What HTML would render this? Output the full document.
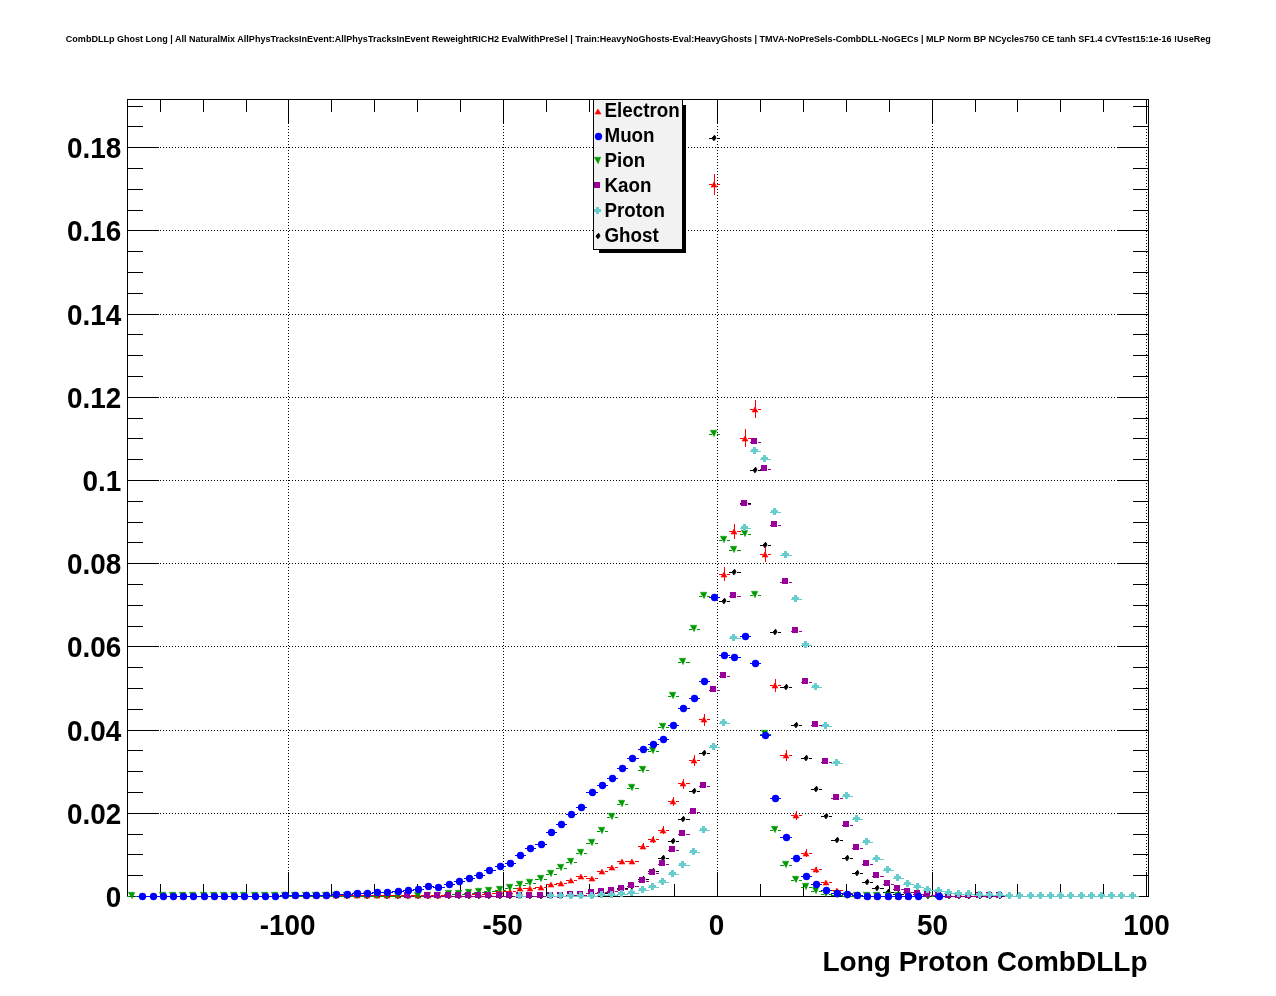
<!DOCTYPE html>
<html><head><meta charset="utf-8"><title>Long Proton CombDLLp</title>
<style>
html,body{margin:0;padding:0;background:#fff;}
body{width:1276px;height:996px;overflow:hidden;}
svg{display:block;will-change:transform;}
text{font-family:"Liberation Sans",Arial,Helvetica,sans-serif;font-weight:bold;fill:#000;}
.ax{font-size:27.9px;}
.at{font-size:28px;}
.lg{font-size:18.8px;}
.tt{font-size:9.05px;}
</style></head><body>
<svg width="1276" height="996" viewBox="0 0 1276 996">
<rect width="1276" height="996" fill="#fff"/>
<path d="M288.5 99V897M503.5 99V897M717.5 99V897M932.5 99V897M1146.5 99V897" stroke="#000" stroke-width="1" stroke-dasharray="1 2" fill="none" shape-rendering="crispEdges"/>
<path d="M127 813.5H1149M127 730.5H1149M127 646.5H1149M127 563.5H1149M127 480.5H1149M127 397.5H1149M127 314.5H1149M127 230.5H1149M127 147.5H1149" stroke="#000" stroke-width="1" stroke-dasharray="1 2" fill="none" shape-rendering="crispEdges"/>
<path d="M127.5 99.5H1148.5V896.5H127.5z" fill="none" stroke="#000" stroke-width="1" shape-rendering="crispEdges"/>
<path d="M160.5 897v-13M160.5 99v13M203.5 897v-13M203.5 99v13M246.5 897v-13M246.5 99v13M288.5 897v-25M288.5 99v25M331.5 897v-13M331.5 99v13M374.5 897v-13M374.5 99v13M417.5 897v-13M417.5 99v13M460.5 897v-13M460.5 99v13M503.5 897v-25M503.5 99v25M546.5 897v-13M546.5 99v13M589.5 897v-13M589.5 99v13M631.5 897v-13M631.5 99v13M674.5 897v-13M674.5 99v13M717.5 897v-25M717.5 99v25M760.5 897v-13M760.5 99v13M803.5 897v-13M803.5 99v13M846.5 897v-13M846.5 99v13M889.5 897v-13M889.5 99v13M932.5 897v-25M932.5 99v25M975.5 897v-13M975.5 99v13M1017.5 897v-13M1017.5 99v13M1060.5 897v-13M1060.5 99v13M1103.5 897v-13M1103.5 99v13M1146.5 897v-25M1146.5 99v25M127 875.5h16M1149 875.5h-16M127 854.5h16M1149 854.5h-16M127 834.5h16M1149 834.5h-16M127 813.5h32M1149 813.5h-32M127 792.5h16M1149 792.5h-16M127 771.5h16M1149 771.5h-16M127 750.5h16M1149 750.5h-16M127 730.5h32M1149 730.5h-32M127 709.5h16M1149 709.5h-16M127 688.5h16M1149 688.5h-16M127 667.5h16M1149 667.5h-16M127 646.5h32M1149 646.5h-32M127 626.5h16M1149 626.5h-16M127 605.5h16M1149 605.5h-16M127 584.5h16M1149 584.5h-16M127 563.5h32M1149 563.5h-32M127 542.5h16M1149 542.5h-16M127 522.5h16M1149 522.5h-16M127 501.5h16M1149 501.5h-16M127 480.5h32M1149 480.5h-32M127 459.5h16M1149 459.5h-16M127 438.5h16M1149 438.5h-16M127 418.5h16M1149 418.5h-16M127 397.5h32M1149 397.5h-32M127 376.5h16M1149 376.5h-16M127 355.5h16M1149 355.5h-16M127 334.5h16M1149 334.5h-16M127 314.5h32M1149 314.5h-32M127 293.5h16M1149 293.5h-16M127 272.5h16M1149 272.5h-16M127 251.5h16M1149 251.5h-16M127 230.5h32M1149 230.5h-32M127 210.5h16M1149 210.5h-16M127 189.5h16M1149 189.5h-16M127 168.5h16M1149 168.5h-16M127 147.5h32M1149 147.5h-32M127 126.5h16M1149 126.5h-16M127 106.5h16M1149 106.5h-16" stroke="#000" stroke-width="1" fill="none" shape-rendering="crispEdges"/>
<path d="M331 896H334v1H331zM339 896H342v1H339zM341 896H345v1H341zM350 896H353v1H350zM362 896H365v1H362zM370 896H373v1H370zM382 896H385v1H382zM390 896H393v1H390zM392 896H396v1H392zM401 896H404v1H401zM403 896H406v1H403zM411 896H414v1H411zM413 896H416v1H413zM421 896H424v1H421zM423 896H426v1H423zM431 896H434v1H431zM433 896H436v1H433zM441 896H445v1H441zM444 896H447v1H444zM452 896H455v1H452zM454 896H457v1H454zM462 896H465v1H462zM464 896H467v1H464zM472 896H475v1H472zM474 896H477v1H474zM482 896H485v1H482zM484 896H487v1H484zM492 896H496v1H492zM495 896H498v1H495zM503 896H506v1H503zM505 896H508v1H505zM513 896H516v1H513zM515 896H518v1H515zM523 896H526v1H523zM525 896H528v1H525zM533 896H536v1H533zM535 896H539v1H535zM544 896H547v1H544zM546 896H549v1H546zM554 896H557v1H554zM556 896H559v1H556zM564 896H567v1H564zM566 896H569v1H566zM574 896H577v1H574zM576 896H579v1H576zM584 896H587v1H584zM586 896H590v1H586zM595 896H598v1H595zM597 893H600v1H597zM605 893H608v1H605zM607 891H610v1H607zM615 891H618v1H615zM617 888H620v1H617zM625 888H628v1H625zM627 886H630v1H627zM635 886H639v1H635zM638 879H641v1H638zM646 879H649v1H646zM648 871H651v1H648zM656 871H659v1H656zM658 858H661v1H658zM666 858H669v1H666zM668 841H671v1H668zM676 841H679v1H676zM678 819H681v1H678zM686 819H690v1H686zM689 791H692v1H689zM697 791H700v1H697zM699 753H702v1H699zM707 753H710v1H707zM709 138H712v1H709zM717 138H720v1H717zM719 601H722v1H719zM727 601H730v1H727zM729 572H732v1H729zM737 572H741v1H737zM740 503H743v1H740zM748 503H751v1H748zM750 470H753v1H750zM758 470H761v1H758zM760 545H763v1H760zM768 545H771v1H768zM770 632H773v1H770zM778 632H781v1H778zM780 687H784v1H780zM789 687H792v1H789zM791 725H794v1H791zM799 725H802v1H799zM801 758H804v1H801zM809 758H812v1H809zM811 789H814v1H811zM819 789H822v1H819zM821 816H824v1H821zM829 816H832v1H829zM831 840H835v1H831zM840 840H843v1H840zM842 858H845v1H842zM850 858H853v1H850zM852 873H855v1H852zM860 873H863v1H860zM862 882H865v1H862zM870 882H873v1H870zM872 888H875v1H872zM880 888H884v1H880zM883 892H886v1H883zM891 892H894v1H891zM893 894H896v1H893zM901 894H904v1H901zM903 896H906v1H903zM911 896H914v1H911zM913 896H916v1H913zM921 896H924v1H921zM923 896H926v1H923zM931 896H935v1H931zM934 896H937v1H934zM942 896H945v1H942zM944 896H947v1H944zM952 896H955v1H952zM954 896H957v1H954zM962 896H965v1H962zM964 896H967v1H964zM972 896H975v1H972zM974 896H978v1H974zM983 896H986v1H983zM985 896H988v1H985zM993 896H996v1H993zM995 896H998v1H995zM1003 896H1006v1H1003z" fill="#000000" shape-rendering="crispEdges"/>
<path d="M336.6 893.2L338.0 896.1L335.9 898.8L334.0 896.1z" fill="#000000" stroke="#000000" stroke-width="1" stroke-linejoin="round"/>
<path d="M347.6 893.2L349.0 896.1L346.9 898.8L345.0 896.1z" fill="#000000" stroke="#000000" stroke-width="1" stroke-linejoin="round"/>
<path d="M367.6 893.2L369.0 896.1L366.9 898.8L365.0 896.1z" fill="#000000" stroke="#000000" stroke-width="1" stroke-linejoin="round"/>
<path d="M387.6 893.2L389.0 896.1L386.9 898.8L385.0 896.1z" fill="#000000" stroke="#000000" stroke-width="1" stroke-linejoin="round"/>
<path d="M398.6 893.2L400.0 896.1L397.9 898.8L396.0 896.1z" fill="#000000" stroke="#000000" stroke-width="1" stroke-linejoin="round"/>
<path d="M408.6 893.2L410.0 896.1L407.9 898.8L406.0 896.1z" fill="#000000" stroke="#000000" stroke-width="1" stroke-linejoin="round"/>
<path d="M418.6 893.2L420.0 896.1L417.9 898.8L416.0 896.1z" fill="#000000" stroke="#000000" stroke-width="1" stroke-linejoin="round"/>
<path d="M428.6 893.2L430.0 896.1L427.9 898.8L426.0 896.1z" fill="#000000" stroke="#000000" stroke-width="1" stroke-linejoin="round"/>
<path d="M438.6 893.2L440.0 896.1L437.9 898.8L436.0 896.1z" fill="#000000" stroke="#000000" stroke-width="1" stroke-linejoin="round"/>
<path d="M449.6 893.2L451.0 896.1L448.9 898.8L447.0 896.1z" fill="#000000" stroke="#000000" stroke-width="1" stroke-linejoin="round"/>
<path d="M459.6 893.2L461.0 896.1L458.9 898.8L457.0 896.1z" fill="#000000" stroke="#000000" stroke-width="1" stroke-linejoin="round"/>
<path d="M469.6 893.2L471.0 896.1L468.9 898.8L467.0 896.1z" fill="#000000" stroke="#000000" stroke-width="1" stroke-linejoin="round"/>
<path d="M479.6 893.2L481.0 896.1L478.9 898.8L477.0 896.1z" fill="#000000" stroke="#000000" stroke-width="1" stroke-linejoin="round"/>
<path d="M489.6 893.2L491.0 896.1L488.9 898.8L487.0 896.1z" fill="#000000" stroke="#000000" stroke-width="1" stroke-linejoin="round"/>
<path d="M500.6 893.2L502.0 896.1L499.9 898.8L498.0 896.1z" fill="#000000" stroke="#000000" stroke-width="1" stroke-linejoin="round"/>
<path d="M510.6 893.2L512.0 896.1L509.9 898.8L508.0 896.1z" fill="#000000" stroke="#000000" stroke-width="1" stroke-linejoin="round"/>
<path d="M520.6 893.2L522.0 896.1L519.9 898.8L518.0 896.1z" fill="#000000" stroke="#000000" stroke-width="1" stroke-linejoin="round"/>
<path d="M530.6 893.2L532.0 896.1L529.9 898.8L528.0 896.1z" fill="#000000" stroke="#000000" stroke-width="1" stroke-linejoin="round"/>
<path d="M541.6 893.2L543.0 896.1L540.9 898.8L539.0 896.1z" fill="#000000" stroke="#000000" stroke-width="1" stroke-linejoin="round"/>
<path d="M551.6 893.2L553.0 896.1L550.9 898.8L549.0 896.1z" fill="#000000" stroke="#000000" stroke-width="1" stroke-linejoin="round"/>
<path d="M561.6 893.2L563.0 896.1L560.9 898.8L559.0 896.1z" fill="#000000" stroke="#000000" stroke-width="1" stroke-linejoin="round"/>
<path d="M571.6 893.2L573.0 896.1L570.9 898.8L569.0 896.1z" fill="#000000" stroke="#000000" stroke-width="1" stroke-linejoin="round"/>
<path d="M581.6 893.2L583.0 896.1L580.9 898.8L579.0 896.1z" fill="#000000" stroke="#000000" stroke-width="1" stroke-linejoin="round"/>
<path d="M592.6 893.2L594.0 896.1L591.9 898.8L590.0 896.1z" fill="#000000" stroke="#000000" stroke-width="1" stroke-linejoin="round"/>
<path d="M602.6 890.2L604.0 893.1L601.9 895.8L600.0 893.1z" fill="#000000" stroke="#000000" stroke-width="1" stroke-linejoin="round"/>
<path d="M612.6 888.2L614.0 891.1L611.9 893.8L610.0 891.1z" fill="#000000" stroke="#000000" stroke-width="1" stroke-linejoin="round"/>
<path d="M622.6 885.2L624.0 888.1L621.9 890.8L620.0 888.1z" fill="#000000" stroke="#000000" stroke-width="1" stroke-linejoin="round"/>
<path d="M632.6 883.2L634.0 886.1L631.9 888.8L630.0 886.1z" fill="#000000" stroke="#000000" stroke-width="1" stroke-linejoin="round"/>
<path d="M643.6 876.2L645.0 879.1L642.9 881.8L641.0 879.1z" fill="#000000" stroke="#000000" stroke-width="1" stroke-linejoin="round"/>
<path d="M653.6 868.2L655.0 871.1L652.9 873.8L651.0 871.1z" fill="#000000" stroke="#000000" stroke-width="1" stroke-linejoin="round"/>
<path d="M663.6 855.2L665.0 858.1L662.9 860.8L661.0 858.1z" fill="#000000" stroke="#000000" stroke-width="1" stroke-linejoin="round"/>
<path d="M673.6 838.2L675.0 841.1L672.9 843.8L671.0 841.1z" fill="#000000" stroke="#000000" stroke-width="1" stroke-linejoin="round"/>
<path d="M683.6 816.2L685.0 819.1L682.9 821.8L681.0 819.1z" fill="#000000" stroke="#000000" stroke-width="1" stroke-linejoin="round"/>
<path d="M694.6 788.2L696.0 791.1L693.9 793.8L692.0 791.1z" fill="#000000" stroke="#000000" stroke-width="1" stroke-linejoin="round"/>
<path d="M704.6 750.2L706.0 753.1L703.9 755.8L702.0 753.1z" fill="#000000" stroke="#000000" stroke-width="1" stroke-linejoin="round"/>
<path d="M714.6 135.2L716.0 138.1L713.9 140.8L712.0 138.1z" fill="#000000" stroke="#000000" stroke-width="1" stroke-linejoin="round"/>
<path d="M724.6 598.2L726.0 601.1L723.9 603.8L722.0 601.1z" fill="#000000" stroke="#000000" stroke-width="1" stroke-linejoin="round"/>
<path d="M734.6 569.2L736.0 572.1L733.9 574.8L732.0 572.1z" fill="#000000" stroke="#000000" stroke-width="1" stroke-linejoin="round"/>
<path d="M745.6 500.2L747.0 503.1L744.9 505.8L743.0 503.1z" fill="#000000" stroke="#000000" stroke-width="1" stroke-linejoin="round"/>
<path d="M755.6 467.2L757.0 470.1L754.9 472.8L753.0 470.1z" fill="#000000" stroke="#000000" stroke-width="1" stroke-linejoin="round"/>
<path d="M765.6 542.2L767.0 545.1L764.9 547.8L763.0 545.1z" fill="#000000" stroke="#000000" stroke-width="1" stroke-linejoin="round"/>
<path d="M775.6 629.2L777.0 632.1L774.9 634.8L773.0 632.1z" fill="#000000" stroke="#000000" stroke-width="1" stroke-linejoin="round"/>
<path d="M786.6 684.2L788.0 687.1L785.9 689.8L784.0 687.1z" fill="#000000" stroke="#000000" stroke-width="1" stroke-linejoin="round"/>
<path d="M796.6 722.2L798.0 725.1L795.9 727.8L794.0 725.1z" fill="#000000" stroke="#000000" stroke-width="1" stroke-linejoin="round"/>
<path d="M806.6 755.2L808.0 758.1L805.9 760.8L804.0 758.1z" fill="#000000" stroke="#000000" stroke-width="1" stroke-linejoin="round"/>
<path d="M816.6 786.2L818.0 789.1L815.9 791.8L814.0 789.1z" fill="#000000" stroke="#000000" stroke-width="1" stroke-linejoin="round"/>
<path d="M826.6 813.2L828.0 816.1L825.9 818.8L824.0 816.1z" fill="#000000" stroke="#000000" stroke-width="1" stroke-linejoin="round"/>
<path d="M837.6 837.2L839.0 840.1L836.9 842.8L835.0 840.1z" fill="#000000" stroke="#000000" stroke-width="1" stroke-linejoin="round"/>
<path d="M847.6 855.2L849.0 858.1L846.9 860.8L845.0 858.1z" fill="#000000" stroke="#000000" stroke-width="1" stroke-linejoin="round"/>
<path d="M857.6 870.2L859.0 873.1L856.9 875.8L855.0 873.1z" fill="#000000" stroke="#000000" stroke-width="1" stroke-linejoin="round"/>
<path d="M867.6 879.2L869.0 882.1L866.9 884.8L865.0 882.1z" fill="#000000" stroke="#000000" stroke-width="1" stroke-linejoin="round"/>
<path d="M877.6 885.2L879.0 888.1L876.9 890.8L875.0 888.1z" fill="#000000" stroke="#000000" stroke-width="1" stroke-linejoin="round"/>
<path d="M888.6 889.2L890.0 892.1L887.9 894.8L886.0 892.1z" fill="#000000" stroke="#000000" stroke-width="1" stroke-linejoin="round"/>
<path d="M898.6 891.2L900.0 894.1L897.9 896.8L896.0 894.1z" fill="#000000" stroke="#000000" stroke-width="1" stroke-linejoin="round"/>
<path d="M908.6 893.2L910.0 896.1L907.9 898.8L906.0 896.1z" fill="#000000" stroke="#000000" stroke-width="1" stroke-linejoin="round"/>
<path d="M918.6 893.2L920.0 896.1L917.9 898.8L916.0 896.1z" fill="#000000" stroke="#000000" stroke-width="1" stroke-linejoin="round"/>
<path d="M928.6 893.2L930.0 896.1L927.9 898.8L926.0 896.1z" fill="#000000" stroke="#000000" stroke-width="1" stroke-linejoin="round"/>
<path d="M939.6 893.2L941.0 896.1L938.9 898.8L937.0 896.1z" fill="#000000" stroke="#000000" stroke-width="1" stroke-linejoin="round"/>
<path d="M949.6 893.2L951.0 896.1L948.9 898.8L947.0 896.1z" fill="#000000" stroke="#000000" stroke-width="1" stroke-linejoin="round"/>
<path d="M959.6 893.2L961.0 896.1L958.9 898.8L957.0 896.1z" fill="#000000" stroke="#000000" stroke-width="1" stroke-linejoin="round"/>
<path d="M969.6 893.2L971.0 896.1L968.9 898.8L967.0 896.1z" fill="#000000" stroke="#000000" stroke-width="1" stroke-linejoin="round"/>
<path d="M980.6 893.2L982.0 896.1L979.9 898.8L978.0 896.1z" fill="#000000" stroke="#000000" stroke-width="1" stroke-linejoin="round"/>
<path d="M990.6 893.2L992.0 896.1L989.9 898.8L988.0 896.1z" fill="#000000" stroke="#000000" stroke-width="1" stroke-linejoin="round"/>
<path d="M1000.6 893.2L1002.0 896.1L999.9 898.8L998.0 896.1z" fill="#000000" stroke="#000000" stroke-width="1" stroke-linejoin="round"/>
<path d="M178 896H181v1H178zM186 896H189v1H186zM219 896H222v1H219zM227 896H230v1H227zM290 895H293v1H290zM298 895H302v1H298zM301 895H304v1H301zM309 895H312v1H309zM311 895H314v1H311zM319 895H322v1H319zM321 895H324v1H321zM329 895H332v1H329zM331 895H334v1H331zM339 895H342v1H339zM341 895H345v1H341zM350 895H353v1H350zM352 895H355v1H352zM360 895H363v1H360zM362 895H365v1H362zM370 895H373v1H370zM372 895H375v1H372zM380 895H383v1H380zM382 895H385v1H382zM390 895H393v1H390zM392 895H396v1H392zM401 895H404v1H401zM403 895H406v1H403zM411 895H414v1H411zM413 895H416v1H413zM421 895H424v1H421zM423 895H426v1H423zM431 895H434v1H431zM433 895H436v1H433zM441 895H445v1H441zM444 894H447v1H444zM452 894H455v1H452zM454 894H457v1H454zM462 894H465v1H462zM464 894H467v1H464zM472 894H475v1H472zM474 894H477v1H474zM482 894H485v1H482zM484 893H487v1H484zM492 893H496v1H492zM495 891H498v1H495zM503 891H506v1H503zM505 891H508v1H505zM513 891H516v1H513zM515 888H518v1H515zM523 888H526v1H523zM525 888H528v1H525zM533 888H536v1H533zM535 887H539v1H535zM544 887H547v1H544zM546 884H549v1H546zM554 884H557v1H554zM556 883H559v1H556zM564 883H567v1H564zM566 880H569v1H566zM574 880H577v1H574zM576 876H579v1H576zM584 876H587v1H584zM586 878H590v1H586zM595 878H598v1H595zM597 871H600v1H597zM605 871H608v1H605zM607 867H610v1H607zM615 867H618v1H615zM617 861H620v1H617zM625 861H628v1H625zM627 861H630v1H627zM635 861H639v1H635zM638 846H641v1H638zM646 846H649v1H646zM643 843h1V849h-1zM648 839H651v1H648zM656 839H659v1H656zM653 836h1V843h-1zM658 830H661v1H658zM666 830H669v1H666zM663 826h1V834h-1zM668 801H671v1H668zM676 801H679v1H676zM673 797h1V806h-1zM678 783H681v1H678zM686 783H690v1H686zM683 779h1V789h-1zM689 760H692v1H689zM697 760H700v1H697zM694 755h1V766h-1zM699 719H702v1H699zM707 719H710v1H707zM704 714h1V726h-1zM709 184H712v1H709zM717 184H720v1H717zM714 174h1V195h-1zM719 574H722v1H719zM727 574H730v1H727zM724 567h1V581h-1zM729 531H732v1H729zM737 531H741v1H737zM734 524h1V539h-1zM740 438H743v1H740zM748 438H751v1H748zM745 429h1V447h-1zM750 409H753v1H750zM758 409H761v1H758zM755 400h1V418h-1zM760 554H763v1H760zM768 554H771v1H768zM765 547h1V562h-1zM770 685H773v1H770zM778 685H781v1H778zM775 679h1V692h-1zM780 755H784v1H780zM789 755H792v1H789zM786 750h1V761h-1zM791 815H794v1H791zM799 815H802v1H799zM796 811h1V820h-1zM801 853H804v1H801zM809 853H812v1H809zM806 849h1V857h-1zM811 869H814v1H811zM819 869H822v1H819zM816 867h1V873h-1zM821 882H824v1H821zM829 882H832v1H829zM831 890H835v1H831zM840 890H843v1H840zM842 893H845v1H842zM850 893H853v1H850zM852 895H855v1H852zM860 895H863v1H860zM862 896H865v1H862zM870 896H873v1H870zM872 896H875v1H872zM880 896H884v1H880zM883 896H886v1H883zM891 896H894v1H891zM893 896H896v1H893zM901 896H904v1H901zM903 896H906v1H903zM911 896H914v1H911z" fill="#ff0000" shape-rendering="crispEdges"/>
<path d="M182.9 893.9L186.0 899.1H180.0z" fill="#ff0000" stroke="#ff0000" stroke-width="0.5"/>
<path d="M223.9 893.9L227.0 899.1H221.0z" fill="#ff0000" stroke="#ff0000" stroke-width="0.5"/>
<path d="M294.9 892.9L298.0 898.1H292.0z" fill="#ff0000" stroke="#ff0000" stroke-width="0.5"/>
<path d="M305.9 892.9L309.0 898.1H303.0z" fill="#ff0000" stroke="#ff0000" stroke-width="0.5"/>
<path d="M315.9 892.9L319.0 898.1H313.0z" fill="#ff0000" stroke="#ff0000" stroke-width="0.5"/>
<path d="M325.9 892.9L329.0 898.1H323.0z" fill="#ff0000" stroke="#ff0000" stroke-width="0.5"/>
<path d="M335.9 892.9L339.0 898.1H333.0z" fill="#ff0000" stroke="#ff0000" stroke-width="0.5"/>
<path d="M346.9 892.9L350.0 898.1H344.0z" fill="#ff0000" stroke="#ff0000" stroke-width="0.5"/>
<path d="M356.9 892.9L360.0 898.1H354.0z" fill="#ff0000" stroke="#ff0000" stroke-width="0.5"/>
<path d="M366.9 892.9L370.0 898.1H364.0z" fill="#ff0000" stroke="#ff0000" stroke-width="0.5"/>
<path d="M376.9 892.9L380.0 898.1H374.0z" fill="#ff0000" stroke="#ff0000" stroke-width="0.5"/>
<path d="M386.9 892.9L390.0 898.1H384.0z" fill="#ff0000" stroke="#ff0000" stroke-width="0.5"/>
<path d="M397.9 892.9L401.0 898.1H395.0z" fill="#ff0000" stroke="#ff0000" stroke-width="0.5"/>
<path d="M407.9 892.9L411.0 898.1H405.0z" fill="#ff0000" stroke="#ff0000" stroke-width="0.5"/>
<path d="M417.9 892.9L421.0 898.1H415.0z" fill="#ff0000" stroke="#ff0000" stroke-width="0.5"/>
<path d="M427.9 892.9L431.0 898.1H425.0z" fill="#ff0000" stroke="#ff0000" stroke-width="0.5"/>
<path d="M437.9 892.9L441.0 898.1H435.0z" fill="#ff0000" stroke="#ff0000" stroke-width="0.5"/>
<path d="M448.9 891.9L452.0 897.1H446.0z" fill="#ff0000" stroke="#ff0000" stroke-width="0.5"/>
<path d="M458.9 891.9L462.0 897.1H456.0z" fill="#ff0000" stroke="#ff0000" stroke-width="0.5"/>
<path d="M468.9 891.9L472.0 897.1H466.0z" fill="#ff0000" stroke="#ff0000" stroke-width="0.5"/>
<path d="M478.9 891.9L482.0 897.1H476.0z" fill="#ff0000" stroke="#ff0000" stroke-width="0.5"/>
<path d="M488.9 890.9L492.0 896.1H486.0z" fill="#ff0000" stroke="#ff0000" stroke-width="0.5"/>
<path d="M499.9 888.9L503.0 894.1H497.0z" fill="#ff0000" stroke="#ff0000" stroke-width="0.5"/>
<path d="M509.9 888.9L513.0 894.1H507.0z" fill="#ff0000" stroke="#ff0000" stroke-width="0.5"/>
<path d="M519.9 885.9L523.0 891.1H517.0z" fill="#ff0000" stroke="#ff0000" stroke-width="0.5"/>
<path d="M529.9 885.9L533.0 891.1H527.0z" fill="#ff0000" stroke="#ff0000" stroke-width="0.5"/>
<path d="M540.9 884.9L544.0 890.1H538.0z" fill="#ff0000" stroke="#ff0000" stroke-width="0.5"/>
<path d="M550.9 881.9L554.0 887.1H548.0z" fill="#ff0000" stroke="#ff0000" stroke-width="0.5"/>
<path d="M560.9 880.9L564.0 886.1H558.0z" fill="#ff0000" stroke="#ff0000" stroke-width="0.5"/>
<path d="M570.9 877.9L574.0 883.1H568.0z" fill="#ff0000" stroke="#ff0000" stroke-width="0.5"/>
<path d="M580.9 873.9L584.0 879.1H578.0z" fill="#ff0000" stroke="#ff0000" stroke-width="0.5"/>
<path d="M591.9 875.9L595.0 881.1H589.0z" fill="#ff0000" stroke="#ff0000" stroke-width="0.5"/>
<path d="M601.9 868.9L605.0 874.1H599.0z" fill="#ff0000" stroke="#ff0000" stroke-width="0.5"/>
<path d="M611.9 864.9L615.0 870.1H609.0z" fill="#ff0000" stroke="#ff0000" stroke-width="0.5"/>
<path d="M621.9 858.9L625.0 864.1H619.0z" fill="#ff0000" stroke="#ff0000" stroke-width="0.5"/>
<path d="M631.9 858.9L635.0 864.1H629.0z" fill="#ff0000" stroke="#ff0000" stroke-width="0.5"/>
<path d="M642.9 843.9L646.0 849.1H640.0z" fill="#ff0000" stroke="#ff0000" stroke-width="0.5"/>
<path d="M652.9 836.9L656.0 842.1H650.0z" fill="#ff0000" stroke="#ff0000" stroke-width="0.5"/>
<path d="M662.9 827.9L666.0 833.1H660.0z" fill="#ff0000" stroke="#ff0000" stroke-width="0.5"/>
<path d="M672.9 798.9L676.0 804.1H670.0z" fill="#ff0000" stroke="#ff0000" stroke-width="0.5"/>
<path d="M682.9 780.9L686.0 786.1H680.0z" fill="#ff0000" stroke="#ff0000" stroke-width="0.5"/>
<path d="M693.9 757.9L697.0 763.1H691.0z" fill="#ff0000" stroke="#ff0000" stroke-width="0.5"/>
<path d="M703.9 716.9L707.0 722.1H701.0z" fill="#ff0000" stroke="#ff0000" stroke-width="0.5"/>
<path d="M713.9 181.9L717.0 187.1H711.0z" fill="#ff0000" stroke="#ff0000" stroke-width="0.5"/>
<path d="M723.9 571.9L727.0 577.1H721.0z" fill="#ff0000" stroke="#ff0000" stroke-width="0.5"/>
<path d="M733.9 528.9L737.0 534.1H731.0z" fill="#ff0000" stroke="#ff0000" stroke-width="0.5"/>
<path d="M744.9 435.9L748.0 441.1H742.0z" fill="#ff0000" stroke="#ff0000" stroke-width="0.5"/>
<path d="M754.9 406.9L758.0 412.1H752.0z" fill="#ff0000" stroke="#ff0000" stroke-width="0.5"/>
<path d="M764.9 551.9L768.0 557.1H762.0z" fill="#ff0000" stroke="#ff0000" stroke-width="0.5"/>
<path d="M774.9 682.9L778.0 688.1H772.0z" fill="#ff0000" stroke="#ff0000" stroke-width="0.5"/>
<path d="M785.9 752.9L789.0 758.1H783.0z" fill="#ff0000" stroke="#ff0000" stroke-width="0.5"/>
<path d="M795.9 812.9L799.0 818.1H793.0z" fill="#ff0000" stroke="#ff0000" stroke-width="0.5"/>
<path d="M805.9 850.9L809.0 856.1H803.0z" fill="#ff0000" stroke="#ff0000" stroke-width="0.5"/>
<path d="M815.9 866.9L819.0 872.1H813.0z" fill="#ff0000" stroke="#ff0000" stroke-width="0.5"/>
<path d="M825.9 879.9L829.0 885.1H823.0z" fill="#ff0000" stroke="#ff0000" stroke-width="0.5"/>
<path d="M836.9 887.9L840.0 893.1H834.0z" fill="#ff0000" stroke="#ff0000" stroke-width="0.5"/>
<path d="M846.9 890.9L850.0 896.1H844.0z" fill="#ff0000" stroke="#ff0000" stroke-width="0.5"/>
<path d="M856.9 892.9L860.0 898.1H854.0z" fill="#ff0000" stroke="#ff0000" stroke-width="0.5"/>
<path d="M866.9 893.9L870.0 899.1H864.0z" fill="#ff0000" stroke="#ff0000" stroke-width="0.5"/>
<path d="M876.9 893.9L880.0 899.1H874.0z" fill="#ff0000" stroke="#ff0000" stroke-width="0.5"/>
<path d="M887.9 893.9L891.0 899.1H885.0z" fill="#ff0000" stroke="#ff0000" stroke-width="0.5"/>
<path d="M897.9 893.9L901.0 899.1H895.0z" fill="#ff0000" stroke="#ff0000" stroke-width="0.5"/>
<path d="M907.9 893.9L911.0 899.1H905.0z" fill="#ff0000" stroke="#ff0000" stroke-width="0.5"/>
<path d="M127 896H130v1H127zM135 896H138v1H135zM158 896H161v1H158zM166 896H169v1H166zM168 896H171v1H168zM176 896H179v1H176zM178 896H181v1H178zM186 896H189v1H186zM188 896H191v1H188zM196 896H199v1H196zM198 896H202v1H198zM207 896H210v1H207zM209 896H212v1H209zM217 896H220v1H217zM219 896H222v1H219zM227 896H230v1H227zM229 896H232v1H229zM237 896H240v1H237zM239 896H242v1H239zM247 896H251v1H247zM250 896H253v1H250zM258 896H261v1H258zM260 896H263v1H260zM268 896H271v1H268zM270 896H273v1H270zM278 896H281v1H278zM280 896H283v1H280zM288 896H291v1H288zM290 896H293v1H290zM298 896H302v1H298zM301 896H304v1H301zM309 896H312v1H309zM311 896H314v1H311zM319 896H322v1H319zM321 896H324v1H321zM329 896H332v1H329zM331 896H334v1H331zM339 896H342v1H339zM341 896H345v1H341zM350 896H353v1H350zM352 896H355v1H352zM360 896H363v1H360zM362 896H365v1H362zM370 896H373v1H370zM372 896H375v1H372zM380 896H383v1H380zM382 896H385v1H382zM390 896H393v1H390zM392 896H396v1H392zM401 896H404v1H401zM403 896H406v1H403zM411 896H414v1H411zM413 896H416v1H413zM421 896H424v1H421zM423 896H426v1H423zM431 896H434v1H431zM433 896H436v1H433zM441 896H445v1H441zM444 894H447v1H444zM452 894H455v1H452zM454 894H457v1H454zM462 894H465v1H462zM464 893H467v1H464zM472 893H475v1H472zM474 892H477v1H474zM482 892H485v1H482zM484 891H487v1H484zM492 891H496v1H492zM495 890H498v1H495zM503 890H506v1H503zM505 888H508v1H505zM513 888H516v1H513zM515 885H518v1H515zM523 885H526v1H523zM525 883H528v1H525zM533 883H536v1H533zM535 879H539v1H535zM544 879H547v1H544zM546 874H549v1H546zM554 874H557v1H554zM556 868H559v1H556zM564 868H567v1H564zM566 862H569v1H566zM574 862H577v1H574zM576 853H579v1H576zM584 853H587v1H584zM586 843H590v1H586zM595 843H598v1H595zM597 831H600v1H597zM605 831H608v1H605zM607 817H610v1H607zM615 817H618v1H615zM617 804H620v1H617zM625 804H628v1H625zM627 788H630v1H627zM635 788H639v1H635zM638 770H641v1H638zM646 770H649v1H646zM648 751H651v1H648zM656 751H659v1H656zM658 727H661v1H658zM666 727H669v1H666zM668 696H671v1H668zM676 696H679v1H676zM678 662H681v1H678zM686 662H690v1H686zM689 629H692v1H689zM697 629H700v1H697zM699 596H702v1H699zM707 596H710v1H707zM709 434H712v1H709zM717 434H720v1H717zM719 540H722v1H719zM727 540H730v1H727zM729 550H732v1H729zM737 550H741v1H737zM740 534H743v1H740zM748 534H751v1H748zM750 595H753v1H750zM758 595H761v1H758zM760 734H763v1H760zM768 734H771v1H768zM770 830H773v1H770zM778 830H781v1H778zM780 865H784v1H780zM789 865H792v1H789zM791 880H794v1H791zM799 880H802v1H799zM801 887H804v1H801zM809 887H812v1H809zM811 891H814v1H811zM819 891H822v1H819zM821 894H824v1H821zM829 894H832v1H829zM831 895H835v1H831zM840 895H843v1H840zM842 896H845v1H842zM850 896H853v1H850zM852 896H855v1H852zM860 896H863v1H860zM862 896H865v1H862zM870 896H873v1H870zM872 896H875v1H872zM880 896H884v1H880zM883 896H886v1H883zM891 896H894v1H891zM893 896H896v1H893zM901 896H904v1H901zM903 896H906v1H903zM911 896H914v1H911zM913 896H916v1H913zM921 896H924v1H921zM923 896H926v1H923zM931 896H935v1H931z" fill="#009900" shape-rendering="crispEdges"/>
<path d="M128.2 892.2H134.8L132.1 898.8z" fill="#009900" stroke="#009900" stroke-width="0.4"/>
<path d="M159.2 892.2H165.8L163.1 898.8z" fill="#009900" stroke="#009900" stroke-width="0.4"/>
<path d="M169.2 892.2H175.8L173.1 898.8z" fill="#009900" stroke="#009900" stroke-width="0.4"/>
<path d="M179.2 892.2H185.8L183.1 898.8z" fill="#009900" stroke="#009900" stroke-width="0.4"/>
<path d="M189.2 892.2H195.8L193.1 898.8z" fill="#009900" stroke="#009900" stroke-width="0.4"/>
<path d="M200.2 892.2H206.8L204.1 898.8z" fill="#009900" stroke="#009900" stroke-width="0.4"/>
<path d="M210.2 892.2H216.8L214.1 898.8z" fill="#009900" stroke="#009900" stroke-width="0.4"/>
<path d="M220.2 892.2H226.8L224.1 898.8z" fill="#009900" stroke="#009900" stroke-width="0.4"/>
<path d="M230.2 892.2H236.8L234.1 898.8z" fill="#009900" stroke="#009900" stroke-width="0.4"/>
<path d="M240.2 892.2H246.8L244.1 898.8z" fill="#009900" stroke="#009900" stroke-width="0.4"/>
<path d="M251.2 892.2H257.8L255.1 898.8z" fill="#009900" stroke="#009900" stroke-width="0.4"/>
<path d="M261.2 892.2H267.8L265.1 898.8z" fill="#009900" stroke="#009900" stroke-width="0.4"/>
<path d="M271.2 892.2H277.8L275.1 898.8z" fill="#009900" stroke="#009900" stroke-width="0.4"/>
<path d="M281.2 892.2H287.8L285.1 898.8z" fill="#009900" stroke="#009900" stroke-width="0.4"/>
<path d="M291.2 892.2H297.8L295.1 898.8z" fill="#009900" stroke="#009900" stroke-width="0.4"/>
<path d="M302.2 892.2H308.8L306.1 898.8z" fill="#009900" stroke="#009900" stroke-width="0.4"/>
<path d="M312.2 892.2H318.8L316.1 898.8z" fill="#009900" stroke="#009900" stroke-width="0.4"/>
<path d="M322.2 892.2H328.8L326.1 898.8z" fill="#009900" stroke="#009900" stroke-width="0.4"/>
<path d="M332.2 892.2H338.8L336.1 898.8z" fill="#009900" stroke="#009900" stroke-width="0.4"/>
<path d="M343.2 892.2H349.8L347.1 898.8z" fill="#009900" stroke="#009900" stroke-width="0.4"/>
<path d="M353.2 892.2H359.8L357.1 898.8z" fill="#009900" stroke="#009900" stroke-width="0.4"/>
<path d="M363.2 892.2H369.8L367.1 898.8z" fill="#009900" stroke="#009900" stroke-width="0.4"/>
<path d="M373.2 892.2H379.8L377.1 898.8z" fill="#009900" stroke="#009900" stroke-width="0.4"/>
<path d="M383.2 892.2H389.8L387.1 898.8z" fill="#009900" stroke="#009900" stroke-width="0.4"/>
<path d="M394.2 892.2H400.8L398.1 898.8z" fill="#009900" stroke="#009900" stroke-width="0.4"/>
<path d="M404.2 892.2H410.8L408.1 898.8z" fill="#009900" stroke="#009900" stroke-width="0.4"/>
<path d="M414.2 892.2H420.8L418.1 898.8z" fill="#009900" stroke="#009900" stroke-width="0.4"/>
<path d="M424.2 892.2H430.8L428.1 898.8z" fill="#009900" stroke="#009900" stroke-width="0.4"/>
<path d="M434.2 892.2H440.8L438.1 898.8z" fill="#009900" stroke="#009900" stroke-width="0.4"/>
<path d="M445.2 890.2H451.8L449.1 896.8z" fill="#009900" stroke="#009900" stroke-width="0.4"/>
<path d="M455.2 890.2H461.8L459.1 896.8z" fill="#009900" stroke="#009900" stroke-width="0.4"/>
<path d="M465.2 889.2H471.8L469.1 895.8z" fill="#009900" stroke="#009900" stroke-width="0.4"/>
<path d="M475.2 888.2H481.8L479.1 894.8z" fill="#009900" stroke="#009900" stroke-width="0.4"/>
<path d="M485.2 887.2H491.8L489.1 893.8z" fill="#009900" stroke="#009900" stroke-width="0.4"/>
<path d="M496.2 886.2H502.8L500.1 892.8z" fill="#009900" stroke="#009900" stroke-width="0.4"/>
<path d="M506.2 884.2H512.8L510.1 890.8z" fill="#009900" stroke="#009900" stroke-width="0.4"/>
<path d="M516.2 881.2H522.8L520.1 887.8z" fill="#009900" stroke="#009900" stroke-width="0.4"/>
<path d="M526.2 879.2H532.8L530.1 885.8z" fill="#009900" stroke="#009900" stroke-width="0.4"/>
<path d="M537.2 875.2H543.8L541.1 881.8z" fill="#009900" stroke="#009900" stroke-width="0.4"/>
<path d="M547.2 870.2H553.8L551.1 876.8z" fill="#009900" stroke="#009900" stroke-width="0.4"/>
<path d="M557.2 864.2H563.8L561.1 870.8z" fill="#009900" stroke="#009900" stroke-width="0.4"/>
<path d="M567.2 858.2H573.8L571.1 864.8z" fill="#009900" stroke="#009900" stroke-width="0.4"/>
<path d="M577.2 849.2H583.8L581.1 855.8z" fill="#009900" stroke="#009900" stroke-width="0.4"/>
<path d="M588.2 839.2H594.8L592.1 845.8z" fill="#009900" stroke="#009900" stroke-width="0.4"/>
<path d="M598.2 827.2H604.8L602.1 833.8z" fill="#009900" stroke="#009900" stroke-width="0.4"/>
<path d="M608.2 813.2H614.8L612.1 819.8z" fill="#009900" stroke="#009900" stroke-width="0.4"/>
<path d="M618.2 800.2H624.8L622.1 806.8z" fill="#009900" stroke="#009900" stroke-width="0.4"/>
<path d="M628.2 784.2H634.8L632.1 790.8z" fill="#009900" stroke="#009900" stroke-width="0.4"/>
<path d="M639.2 766.2H645.8L643.1 772.8z" fill="#009900" stroke="#009900" stroke-width="0.4"/>
<path d="M649.2 747.2H655.8L653.1 753.8z" fill="#009900" stroke="#009900" stroke-width="0.4"/>
<path d="M659.2 723.2H665.8L663.1 729.8z" fill="#009900" stroke="#009900" stroke-width="0.4"/>
<path d="M669.2 692.2H675.8L673.1 698.8z" fill="#009900" stroke="#009900" stroke-width="0.4"/>
<path d="M679.2 658.2H685.8L683.1 664.8z" fill="#009900" stroke="#009900" stroke-width="0.4"/>
<path d="M690.2 625.2H696.8L694.1 631.8z" fill="#009900" stroke="#009900" stroke-width="0.4"/>
<path d="M700.2 592.2H706.8L704.1 598.8z" fill="#009900" stroke="#009900" stroke-width="0.4"/>
<path d="M710.2 430.2H716.8L714.1 436.8z" fill="#009900" stroke="#009900" stroke-width="0.4"/>
<path d="M720.2 536.2H726.8L724.1 542.8z" fill="#009900" stroke="#009900" stroke-width="0.4"/>
<path d="M730.2 546.2H736.8L734.1 552.8z" fill="#009900" stroke="#009900" stroke-width="0.4"/>
<path d="M741.2 530.2H747.8L745.1 536.8z" fill="#009900" stroke="#009900" stroke-width="0.4"/>
<path d="M751.2 591.2H757.8L755.1 597.8z" fill="#009900" stroke="#009900" stroke-width="0.4"/>
<path d="M761.2 730.2H767.8L765.1 736.8z" fill="#009900" stroke="#009900" stroke-width="0.4"/>
<path d="M771.2 826.2H777.8L775.1 832.8z" fill="#009900" stroke="#009900" stroke-width="0.4"/>
<path d="M782.2 861.2H788.8L786.1 867.8z" fill="#009900" stroke="#009900" stroke-width="0.4"/>
<path d="M792.2 876.2H798.8L796.1 882.8z" fill="#009900" stroke="#009900" stroke-width="0.4"/>
<path d="M802.2 883.2H808.8L806.1 889.8z" fill="#009900" stroke="#009900" stroke-width="0.4"/>
<path d="M812.2 887.2H818.8L816.1 893.8z" fill="#009900" stroke="#009900" stroke-width="0.4"/>
<path d="M822.2 890.2H828.8L826.1 896.8z" fill="#009900" stroke="#009900" stroke-width="0.4"/>
<path d="M833.2 891.2H839.8L837.1 897.8z" fill="#009900" stroke="#009900" stroke-width="0.4"/>
<path d="M843.2 892.2H849.8L847.1 898.8z" fill="#009900" stroke="#009900" stroke-width="0.4"/>
<path d="M853.2 892.2H859.8L857.1 898.8z" fill="#009900" stroke="#009900" stroke-width="0.4"/>
<path d="M863.2 892.2H869.8L867.1 898.8z" fill="#009900" stroke="#009900" stroke-width="0.4"/>
<path d="M873.2 892.2H879.8L877.1 898.8z" fill="#009900" stroke="#009900" stroke-width="0.4"/>
<path d="M884.2 892.2H890.8L888.1 898.8z" fill="#009900" stroke="#009900" stroke-width="0.4"/>
<path d="M894.2 892.2H900.8L898.1 898.8z" fill="#009900" stroke="#009900" stroke-width="0.4"/>
<path d="M904.2 892.2H910.8L908.1 898.8z" fill="#009900" stroke="#009900" stroke-width="0.4"/>
<path d="M914.2 892.2H920.8L918.1 898.8z" fill="#009900" stroke="#009900" stroke-width="0.4"/>
<path d="M924.2 892.2H930.8L928.1 898.8z" fill="#009900" stroke="#009900" stroke-width="0.4"/>
<path d="M403 896H406v1H403zM411 896H414v1H411zM423 896H426v1H423zM431 896H434v1H431zM433 896H436v1H433zM441 896H445v1H441zM444 896H447v1H444zM452 896H455v1H452zM454 896H457v1H454zM462 896H465v1H462zM464 896H467v1H464zM472 896H475v1H472zM474 896H477v1H474zM482 896H485v1H482zM484 896H487v1H484zM492 896H496v1H492zM495 896H498v1H495zM503 896H506v1H503zM505 896H508v1H505zM513 896H516v1H513zM515 896H518v1H515zM523 896H526v1H523zM525 896H528v1H525zM533 896H536v1H533zM535 896H539v1H535zM544 896H547v1H544zM546 896H549v1H546zM554 896H557v1H554zM556 896H559v1H556zM564 896H567v1H564zM566 895H569v1H566zM574 895H577v1H574zM576 895H579v1H576zM584 895H587v1H584zM586 893H590v1H586zM595 893H598v1H595zM597 892H600v1H597zM605 892H608v1H605zM607 891H610v1H607zM615 891H618v1H615zM617 889H620v1H617zM625 889H628v1H625zM627 886H630v1H627zM635 886H639v1H635zM638 881H641v1H638zM646 881H649v1H646zM648 873H651v1H648zM656 873H659v1H656zM658 864H661v1H658zM666 864H669v1H666zM668 850H671v1H668zM676 850H679v1H676zM678 834H681v1H678zM686 834H690v1H686zM689 812H692v1H689zM697 812H700v1H697zM699 786H702v1H699zM707 786H710v1H707zM709 690H712v1H709zM717 690H720v1H717zM719 676H722v1H719zM727 676H730v1H727zM729 596H732v1H729zM737 596H741v1H737zM740 504H743v1H740zM748 504H751v1H748zM750 442H753v1H750zM758 442H761v1H758zM760 469H763v1H760zM768 469H771v1H768zM770 525H773v1H770zM778 525H781v1H778zM780 582H784v1H780zM789 582H792v1H789zM791 631H794v1H791zM799 631H802v1H799zM801 682H804v1H801zM809 682H812v1H809zM811 725H814v1H811zM819 725H822v1H819zM821 762H824v1H821zM829 762H832v1H829zM831 798H835v1H831zM840 798H843v1H840zM842 825H845v1H842zM850 825H853v1H850zM852 848H855v1H852zM860 848H863v1H860zM862 864H865v1H862zM870 864H873v1H870zM872 876H875v1H872zM880 876H884v1H880zM883 884H886v1H883zM891 884H894v1H891zM893 889H896v1H893zM901 889H904v1H901zM903 892H906v1H903zM911 892H914v1H911zM913 894H916v1H913zM921 894H924v1H921zM923 895H926v1H923zM931 895H935v1H931zM934 896H937v1H934zM942 896H945v1H942zM944 896H947v1H944zM952 896H955v1H952zM954 896H957v1H954zM962 896H965v1H962zM964 896H967v1H964zM972 896H975v1H972zM974 896H978v1H974zM983 896H986v1H983zM985 896H988v1H985zM993 896H996v1H993zM995 896H998v1H995zM1003 896H1006v1H1003z" fill="#990099" shape-rendering="crispEdges"/>
<rect x="404" y="892" width="6" height="6" fill="#990099" shape-rendering="crispEdges"/>
<rect x="424" y="892" width="6" height="6" fill="#990099" shape-rendering="crispEdges"/>
<rect x="434" y="892" width="6" height="6" fill="#990099" shape-rendering="crispEdges"/>
<rect x="445" y="892" width="6" height="6" fill="#990099" shape-rendering="crispEdges"/>
<rect x="455" y="892" width="6" height="6" fill="#990099" shape-rendering="crispEdges"/>
<rect x="465" y="892" width="6" height="6" fill="#990099" shape-rendering="crispEdges"/>
<rect x="475" y="892" width="6" height="6" fill="#990099" shape-rendering="crispEdges"/>
<rect x="485" y="892" width="6" height="6" fill="#990099" shape-rendering="crispEdges"/>
<rect x="496" y="892" width="6" height="6" fill="#990099" shape-rendering="crispEdges"/>
<rect x="506" y="892" width="6" height="6" fill="#990099" shape-rendering="crispEdges"/>
<rect x="516" y="892" width="6" height="6" fill="#990099" shape-rendering="crispEdges"/>
<rect x="526" y="892" width="6" height="6" fill="#990099" shape-rendering="crispEdges"/>
<rect x="537" y="892" width="6" height="6" fill="#990099" shape-rendering="crispEdges"/>
<rect x="547" y="892" width="6" height="6" fill="#990099" shape-rendering="crispEdges"/>
<rect x="557" y="892" width="6" height="6" fill="#990099" shape-rendering="crispEdges"/>
<rect x="567" y="891" width="6" height="6" fill="#990099" shape-rendering="crispEdges"/>
<rect x="577" y="891" width="6" height="6" fill="#990099" shape-rendering="crispEdges"/>
<rect x="588" y="889" width="6" height="6" fill="#990099" shape-rendering="crispEdges"/>
<rect x="598" y="888" width="6" height="6" fill="#990099" shape-rendering="crispEdges"/>
<rect x="608" y="887" width="6" height="6" fill="#990099" shape-rendering="crispEdges"/>
<rect x="618" y="885" width="6" height="6" fill="#990099" shape-rendering="crispEdges"/>
<rect x="628" y="882" width="6" height="6" fill="#990099" shape-rendering="crispEdges"/>
<rect x="639" y="877" width="6" height="6" fill="#990099" shape-rendering="crispEdges"/>
<rect x="649" y="869" width="6" height="6" fill="#990099" shape-rendering="crispEdges"/>
<rect x="659" y="860" width="6" height="6" fill="#990099" shape-rendering="crispEdges"/>
<rect x="669" y="846" width="6" height="6" fill="#990099" shape-rendering="crispEdges"/>
<rect x="679" y="830" width="6" height="6" fill="#990099" shape-rendering="crispEdges"/>
<rect x="690" y="808" width="6" height="6" fill="#990099" shape-rendering="crispEdges"/>
<rect x="700" y="782" width="6" height="6" fill="#990099" shape-rendering="crispEdges"/>
<rect x="710" y="686" width="6" height="6" fill="#990099" shape-rendering="crispEdges"/>
<rect x="720" y="672" width="6" height="6" fill="#990099" shape-rendering="crispEdges"/>
<rect x="730" y="592" width="6" height="6" fill="#990099" shape-rendering="crispEdges"/>
<rect x="741" y="500" width="6" height="6" fill="#990099" shape-rendering="crispEdges"/>
<rect x="751" y="438" width="6" height="6" fill="#990099" shape-rendering="crispEdges"/>
<rect x="761" y="465" width="6" height="6" fill="#990099" shape-rendering="crispEdges"/>
<rect x="771" y="521" width="6" height="6" fill="#990099" shape-rendering="crispEdges"/>
<rect x="782" y="578" width="6" height="6" fill="#990099" shape-rendering="crispEdges"/>
<rect x="792" y="627" width="6" height="6" fill="#990099" shape-rendering="crispEdges"/>
<rect x="802" y="678" width="6" height="6" fill="#990099" shape-rendering="crispEdges"/>
<rect x="812" y="721" width="6" height="6" fill="#990099" shape-rendering="crispEdges"/>
<rect x="822" y="758" width="6" height="6" fill="#990099" shape-rendering="crispEdges"/>
<rect x="833" y="794" width="6" height="6" fill="#990099" shape-rendering="crispEdges"/>
<rect x="843" y="821" width="6" height="6" fill="#990099" shape-rendering="crispEdges"/>
<rect x="853" y="844" width="6" height="6" fill="#990099" shape-rendering="crispEdges"/>
<rect x="863" y="860" width="6" height="6" fill="#990099" shape-rendering="crispEdges"/>
<rect x="873" y="872" width="6" height="6" fill="#990099" shape-rendering="crispEdges"/>
<rect x="884" y="880" width="6" height="6" fill="#990099" shape-rendering="crispEdges"/>
<rect x="894" y="885" width="6" height="6" fill="#990099" shape-rendering="crispEdges"/>
<rect x="904" y="888" width="6" height="6" fill="#990099" shape-rendering="crispEdges"/>
<rect x="914" y="890" width="6" height="6" fill="#990099" shape-rendering="crispEdges"/>
<rect x="924" y="891" width="6" height="6" fill="#990099" shape-rendering="crispEdges"/>
<rect x="935" y="892" width="6" height="6" fill="#990099" shape-rendering="crispEdges"/>
<rect x="945" y="892" width="6" height="6" fill="#990099" shape-rendering="crispEdges"/>
<rect x="955" y="892" width="6" height="6" fill="#990099" shape-rendering="crispEdges"/>
<rect x="965" y="892" width="6" height="6" fill="#990099" shape-rendering="crispEdges"/>
<rect x="976" y="892" width="6" height="6" fill="#990099" shape-rendering="crispEdges"/>
<rect x="986" y="892" width="6" height="6" fill="#990099" shape-rendering="crispEdges"/>
<rect x="996" y="892" width="6" height="6" fill="#990099" shape-rendering="crispEdges"/>
<path d="M515 896H518v1H515zM523 896H526v1H523zM546 896H549v1H546zM554 896H557v1H554zM556 896H559v1H556zM564 896H567v1H564zM566 896H569v1H566zM574 896H577v1H574zM576 896H579v1H576zM584 896H587v1H584zM586 896H590v1H586zM595 896H598v1H595zM597 895H600v1H597zM605 895H608v1H605zM607 895H610v1H607zM615 895H618v1H615zM617 894H620v1H617zM625 894H628v1H625zM627 893H630v1H627zM635 893H639v1H635zM638 890H641v1H638zM646 890H649v1H646zM648 887H651v1H648zM656 887H659v1H656zM658 882H661v1H658zM666 882H669v1H666zM668 874H671v1H668zM676 874H679v1H676zM678 865H681v1H678zM686 865H690v1H686zM689 852H692v1H689zM697 852H700v1H697zM699 830H702v1H699zM707 830H710v1H707zM709 747H712v1H709zM717 747H720v1H717zM719 723H722v1H719zM727 723H730v1H727zM729 638H732v1H729zM737 638H741v1H737zM740 528H743v1H740zM748 528H751v1H748zM750 451H753v1H750zM758 451H761v1H758zM760 459H763v1H760zM768 459H771v1H768zM770 512H773v1H770zM778 512H781v1H778zM780 555H784v1H780zM789 555H792v1H789zM791 599H794v1H791zM799 599H802v1H799zM801 645H804v1H801zM809 645H812v1H809zM811 687H814v1H811zM819 687H822v1H819zM821 726H824v1H821zM829 726H832v1H829zM831 763H835v1H831zM840 763H843v1H840zM842 796H845v1H842zM850 796H853v1H850zM852 819H855v1H852zM860 819H863v1H860zM862 842H865v1H862zM870 842H873v1H870zM872 859H875v1H872zM880 859H884v1H880zM883 870H886v1H883zM891 870H894v1H891zM893 878H896v1H893zM901 878H904v1H901zM903 884H906v1H903zM911 884H914v1H911zM913 887H916v1H913zM921 887H924v1H921zM923 890H926v1H923zM931 890H935v1H931zM934 891H937v1H934zM942 891H945v1H942zM944 893H947v1H944zM952 893H955v1H952zM954 894H957v1H954zM962 894H965v1H962zM964 894H967v1H964zM972 894H975v1H972zM974 895H978v1H974zM983 895H986v1H983zM985 895H988v1H985zM993 895H996v1H993zM995 895H998v1H995zM1003 895H1006v1H1003zM1005 896H1008v1H1005zM1013 896H1016v1H1013zM1015 896H1018v1H1015zM1023 896H1026v1H1023zM1025 896H1029v1H1025zM1034 896H1037v1H1034zM1036 896H1039v1H1036zM1044 896H1047v1H1044zM1046 896H1049v1H1046zM1054 896H1057v1H1054zM1056 896H1059v1H1056zM1064 896H1067v1H1064zM1066 896H1069v1H1066zM1074 896H1078v1H1074zM1077 896H1080v1H1077zM1085 896H1088v1H1085zM1087 896H1090v1H1087zM1095 896H1098v1H1095zM1097 896H1100v1H1097zM1105 896H1108v1H1105zM1107 896H1110v1H1107zM1115 896H1118v1H1115zM1117 896H1120v1H1117zM1125 896H1129v1H1125zM1128 896H1131v1H1128zM1136 896H1139v1H1136z" fill="#66cccc" shape-rendering="crispEdges"/>
<path d="M518 892h3v2h2v3h-2v2h-3v-2h-2v-3h2z" fill="#66cccc" shape-rendering="crispEdges"/>
<path d="M549 892h3v2h2v3h-2v2h-3v-2h-2v-3h2z" fill="#66cccc" shape-rendering="crispEdges"/>
<path d="M559 892h3v2h2v3h-2v2h-3v-2h-2v-3h2z" fill="#66cccc" shape-rendering="crispEdges"/>
<path d="M569 892h3v2h2v3h-2v2h-3v-2h-2v-3h2z" fill="#66cccc" shape-rendering="crispEdges"/>
<path d="M579 892h3v2h2v3h-2v2h-3v-2h-2v-3h2z" fill="#66cccc" shape-rendering="crispEdges"/>
<path d="M590 892h3v2h2v3h-2v2h-3v-2h-2v-3h2z" fill="#66cccc" shape-rendering="crispEdges"/>
<path d="M600 891h3v2h2v3h-2v2h-3v-2h-2v-3h2z" fill="#66cccc" shape-rendering="crispEdges"/>
<path d="M610 891h3v2h2v3h-2v2h-3v-2h-2v-3h2z" fill="#66cccc" shape-rendering="crispEdges"/>
<path d="M620 890h3v2h2v3h-2v2h-3v-2h-2v-3h2z" fill="#66cccc" shape-rendering="crispEdges"/>
<path d="M630 889h3v2h2v3h-2v2h-3v-2h-2v-3h2z" fill="#66cccc" shape-rendering="crispEdges"/>
<path d="M641 886h3v2h2v3h-2v2h-3v-2h-2v-3h2z" fill="#66cccc" shape-rendering="crispEdges"/>
<path d="M651 883h3v2h2v3h-2v2h-3v-2h-2v-3h2z" fill="#66cccc" shape-rendering="crispEdges"/>
<path d="M661 878h3v2h2v3h-2v2h-3v-2h-2v-3h2z" fill="#66cccc" shape-rendering="crispEdges"/>
<path d="M671 870h3v2h2v3h-2v2h-3v-2h-2v-3h2z" fill="#66cccc" shape-rendering="crispEdges"/>
<path d="M681 861h3v2h2v3h-2v2h-3v-2h-2v-3h2z" fill="#66cccc" shape-rendering="crispEdges"/>
<path d="M692 848h3v2h2v3h-2v2h-3v-2h-2v-3h2z" fill="#66cccc" shape-rendering="crispEdges"/>
<path d="M702 826h3v2h2v3h-2v2h-3v-2h-2v-3h2z" fill="#66cccc" shape-rendering="crispEdges"/>
<path d="M712 743h3v2h2v3h-2v2h-3v-2h-2v-3h2z" fill="#66cccc" shape-rendering="crispEdges"/>
<path d="M722 719h3v2h2v3h-2v2h-3v-2h-2v-3h2z" fill="#66cccc" shape-rendering="crispEdges"/>
<path d="M732 634h3v2h2v3h-2v2h-3v-2h-2v-3h2z" fill="#66cccc" shape-rendering="crispEdges"/>
<path d="M743 524h3v2h2v3h-2v2h-3v-2h-2v-3h2z" fill="#66cccc" shape-rendering="crispEdges"/>
<path d="M753 447h3v2h2v3h-2v2h-3v-2h-2v-3h2z" fill="#66cccc" shape-rendering="crispEdges"/>
<path d="M763 455h3v2h2v3h-2v2h-3v-2h-2v-3h2z" fill="#66cccc" shape-rendering="crispEdges"/>
<path d="M773 508h3v2h2v3h-2v2h-3v-2h-2v-3h2z" fill="#66cccc" shape-rendering="crispEdges"/>
<path d="M784 551h3v2h2v3h-2v2h-3v-2h-2v-3h2z" fill="#66cccc" shape-rendering="crispEdges"/>
<path d="M794 595h3v2h2v3h-2v2h-3v-2h-2v-3h2z" fill="#66cccc" shape-rendering="crispEdges"/>
<path d="M804 641h3v2h2v3h-2v2h-3v-2h-2v-3h2z" fill="#66cccc" shape-rendering="crispEdges"/>
<path d="M814 683h3v2h2v3h-2v2h-3v-2h-2v-3h2z" fill="#66cccc" shape-rendering="crispEdges"/>
<path d="M824 722h3v2h2v3h-2v2h-3v-2h-2v-3h2z" fill="#66cccc" shape-rendering="crispEdges"/>
<path d="M835 759h3v2h2v3h-2v2h-3v-2h-2v-3h2z" fill="#66cccc" shape-rendering="crispEdges"/>
<path d="M845 792h3v2h2v3h-2v2h-3v-2h-2v-3h2z" fill="#66cccc" shape-rendering="crispEdges"/>
<path d="M855 815h3v2h2v3h-2v2h-3v-2h-2v-3h2z" fill="#66cccc" shape-rendering="crispEdges"/>
<path d="M865 838h3v2h2v3h-2v2h-3v-2h-2v-3h2z" fill="#66cccc" shape-rendering="crispEdges"/>
<path d="M875 855h3v2h2v3h-2v2h-3v-2h-2v-3h2z" fill="#66cccc" shape-rendering="crispEdges"/>
<path d="M886 866h3v2h2v3h-2v2h-3v-2h-2v-3h2z" fill="#66cccc" shape-rendering="crispEdges"/>
<path d="M896 874h3v2h2v3h-2v2h-3v-2h-2v-3h2z" fill="#66cccc" shape-rendering="crispEdges"/>
<path d="M906 880h3v2h2v3h-2v2h-3v-2h-2v-3h2z" fill="#66cccc" shape-rendering="crispEdges"/>
<path d="M916 883h3v2h2v3h-2v2h-3v-2h-2v-3h2z" fill="#66cccc" shape-rendering="crispEdges"/>
<path d="M926 886h3v2h2v3h-2v2h-3v-2h-2v-3h2z" fill="#66cccc" shape-rendering="crispEdges"/>
<path d="M937 887h3v2h2v3h-2v2h-3v-2h-2v-3h2z" fill="#66cccc" shape-rendering="crispEdges"/>
<path d="M947 889h3v2h2v3h-2v2h-3v-2h-2v-3h2z" fill="#66cccc" shape-rendering="crispEdges"/>
<path d="M957 890h3v2h2v3h-2v2h-3v-2h-2v-3h2z" fill="#66cccc" shape-rendering="crispEdges"/>
<path d="M967 890h3v2h2v3h-2v2h-3v-2h-2v-3h2z" fill="#66cccc" shape-rendering="crispEdges"/>
<path d="M978 891h3v2h2v3h-2v2h-3v-2h-2v-3h2z" fill="#66cccc" shape-rendering="crispEdges"/>
<path d="M988 891h3v2h2v3h-2v2h-3v-2h-2v-3h2z" fill="#66cccc" shape-rendering="crispEdges"/>
<path d="M998 891h3v2h2v3h-2v2h-3v-2h-2v-3h2z" fill="#66cccc" shape-rendering="crispEdges"/>
<path d="M1008 892h3v2h2v3h-2v2h-3v-2h-2v-3h2z" fill="#66cccc" shape-rendering="crispEdges"/>
<path d="M1018 892h3v2h2v3h-2v2h-3v-2h-2v-3h2z" fill="#66cccc" shape-rendering="crispEdges"/>
<path d="M1029 892h3v2h2v3h-2v2h-3v-2h-2v-3h2z" fill="#66cccc" shape-rendering="crispEdges"/>
<path d="M1039 892h3v2h2v3h-2v2h-3v-2h-2v-3h2z" fill="#66cccc" shape-rendering="crispEdges"/>
<path d="M1049 892h3v2h2v3h-2v2h-3v-2h-2v-3h2z" fill="#66cccc" shape-rendering="crispEdges"/>
<path d="M1059 892h3v2h2v3h-2v2h-3v-2h-2v-3h2z" fill="#66cccc" shape-rendering="crispEdges"/>
<path d="M1069 892h3v2h2v3h-2v2h-3v-2h-2v-3h2z" fill="#66cccc" shape-rendering="crispEdges"/>
<path d="M1080 892h3v2h2v3h-2v2h-3v-2h-2v-3h2z" fill="#66cccc" shape-rendering="crispEdges"/>
<path d="M1090 892h3v2h2v3h-2v2h-3v-2h-2v-3h2z" fill="#66cccc" shape-rendering="crispEdges"/>
<path d="M1100 892h3v2h2v3h-2v2h-3v-2h-2v-3h2z" fill="#66cccc" shape-rendering="crispEdges"/>
<path d="M1110 892h3v2h2v3h-2v2h-3v-2h-2v-3h2z" fill="#66cccc" shape-rendering="crispEdges"/>
<path d="M1120 892h3v2h2v3h-2v2h-3v-2h-2v-3h2z" fill="#66cccc" shape-rendering="crispEdges"/>
<path d="M1131 892h3v2h2v3h-2v2h-3v-2h-2v-3h2z" fill="#66cccc" shape-rendering="crispEdges"/>
<path d="M137 896H140v1H137zM145 896H148v1H145zM147 896H151v1H147zM156 896H159v1H156zM158 896H161v1H158zM166 896H169v1H166zM168 896H171v1H168zM176 896H179v1H176zM178 896H181v1H178zM186 896H189v1H186zM188 896H191v1H188zM196 896H199v1H196zM198 896H202v1H198zM207 896H210v1H207zM209 896H212v1H209zM217 896H220v1H217zM219 896H222v1H219zM227 896H230v1H227zM229 896H232v1H229zM237 896H240v1H237zM239 896H242v1H239zM247 896H251v1H247zM250 896H253v1H250zM258 896H261v1H258zM260 896H263v1H260zM268 896H271v1H268zM270 896H273v1H270zM278 896H281v1H278zM280 895H283v1H280zM288 895H291v1H288zM290 895H293v1H290zM298 895H302v1H298zM301 895H304v1H301zM309 895H312v1H309zM311 895H314v1H311zM319 895H322v1H319zM321 895H324v1H321zM329 895H332v1H329zM331 894H334v1H331zM339 894H342v1H339zM341 894H345v1H341zM350 894H353v1H350zM352 893H355v1H352zM360 893H363v1H360zM362 893H365v1H362zM370 893H373v1H370zM372 892H375v1H372zM380 892H383v1H380zM382 892H385v1H382zM390 892H393v1H390zM392 891H396v1H392zM401 891H404v1H401zM403 890H406v1H403zM411 890H414v1H411zM413 889H416v1H413zM421 889H424v1H421zM423 886H426v1H423zM431 886H434v1H431zM433 887H436v1H433zM441 887H445v1H441zM444 884H447v1H444zM452 884H455v1H452zM454 881H457v1H454zM462 881H465v1H462zM464 878H467v1H464zM472 878H475v1H472zM474 875H477v1H474zM482 875H485v1H482zM484 870H487v1H484zM492 870H496v1H492zM495 866H498v1H495zM503 866H506v1H503zM505 863H508v1H505zM513 863H516v1H513zM515 855H518v1H515zM523 855H526v1H523zM525 848H528v1H525zM533 848H536v1H533zM535 844H539v1H535zM544 844H547v1H544zM546 832H549v1H546zM554 832H557v1H554zM556 824H559v1H556zM564 824H567v1H564zM566 814H569v1H566zM574 814H577v1H574zM576 807H579v1H576zM584 807H587v1H584zM586 792H590v1H586zM595 792H598v1H595zM597 785H600v1H597zM605 785H608v1H605zM607 778H610v1H607zM615 778H618v1H615zM617 768H620v1H617zM625 768H628v1H625zM627 758H630v1H627zM635 758H639v1H635zM638 749H641v1H638zM646 749H649v1H646zM648 744H651v1H648zM656 744H659v1H656zM658 739H661v1H658zM666 739H669v1H666zM668 725H671v1H668zM676 725H679v1H676zM678 708H681v1H678zM686 708H690v1H686zM689 698H692v1H689zM697 698H700v1H697zM699 681H702v1H699zM707 681H710v1H707zM709 597H712v1H709zM717 597H720v1H717zM719 655H722v1H719zM727 655H730v1H727zM729 657H732v1H729zM737 657H741v1H737zM740 636H743v1H740zM748 636H751v1H748zM750 663H753v1H750zM758 663H761v1H758zM760 735H763v1H760zM768 735H771v1H768zM770 798H773v1H770zM778 798H781v1H778zM780 837H784v1H780zM789 837H792v1H789zM791 858H794v1H791zM799 858H802v1H799zM801 876H804v1H801zM809 876H812v1H809zM811 884H814v1H811zM819 884H822v1H819zM821 890H824v1H821zM829 890H832v1H829zM831 893H835v1H831zM840 893H843v1H840zM842 894H845v1H842zM850 894H853v1H850zM852 895H855v1H852zM860 895H863v1H860zM862 896H865v1H862zM870 896H873v1H870zM872 896H875v1H872zM880 896H884v1H880zM883 896H886v1H883zM891 896H894v1H891zM893 896H896v1H893zM901 896H904v1H901zM903 896H906v1H903zM911 896H914v1H911zM913 896H916v1H913zM921 896H924v1H921zM934 896H937v1H934zM942 896H945v1H942z" fill="#0000ff" shape-rendering="crispEdges"/>
<circle cx="142.5" cy="896.5" r="3.65" fill="#0000ff"/>
<circle cx="153.5" cy="896.5" r="3.65" fill="#0000ff"/>
<circle cx="163.5" cy="896.5" r="3.65" fill="#0000ff"/>
<circle cx="173.5" cy="896.5" r="3.65" fill="#0000ff"/>
<circle cx="183.5" cy="896.5" r="3.65" fill="#0000ff"/>
<circle cx="193.5" cy="896.5" r="3.65" fill="#0000ff"/>
<circle cx="204.5" cy="896.5" r="3.65" fill="#0000ff"/>
<circle cx="214.5" cy="896.5" r="3.65" fill="#0000ff"/>
<circle cx="224.5" cy="896.5" r="3.65" fill="#0000ff"/>
<circle cx="234.5" cy="896.5" r="3.65" fill="#0000ff"/>
<circle cx="244.5" cy="896.5" r="3.65" fill="#0000ff"/>
<circle cx="255.5" cy="896.5" r="3.65" fill="#0000ff"/>
<circle cx="265.5" cy="896.5" r="3.65" fill="#0000ff"/>
<circle cx="275.5" cy="896.5" r="3.65" fill="#0000ff"/>
<circle cx="285.5" cy="895.5" r="3.65" fill="#0000ff"/>
<circle cx="295.5" cy="895.5" r="3.65" fill="#0000ff"/>
<circle cx="306.5" cy="895.5" r="3.65" fill="#0000ff"/>
<circle cx="316.5" cy="895.5" r="3.65" fill="#0000ff"/>
<circle cx="326.5" cy="895.5" r="3.65" fill="#0000ff"/>
<circle cx="336.5" cy="894.5" r="3.65" fill="#0000ff"/>
<circle cx="347.5" cy="894.5" r="3.65" fill="#0000ff"/>
<circle cx="357.5" cy="893.5" r="3.65" fill="#0000ff"/>
<circle cx="367.5" cy="893.5" r="3.65" fill="#0000ff"/>
<circle cx="377.5" cy="892.5" r="3.65" fill="#0000ff"/>
<circle cx="387.5" cy="892.5" r="3.65" fill="#0000ff"/>
<circle cx="398.5" cy="891.5" r="3.65" fill="#0000ff"/>
<circle cx="408.5" cy="890.5" r="3.65" fill="#0000ff"/>
<circle cx="418.5" cy="889.5" r="3.65" fill="#0000ff"/>
<circle cx="428.5" cy="886.5" r="3.65" fill="#0000ff"/>
<circle cx="438.5" cy="887.5" r="3.65" fill="#0000ff"/>
<circle cx="449.5" cy="884.5" r="3.65" fill="#0000ff"/>
<circle cx="459.5" cy="881.5" r="3.65" fill="#0000ff"/>
<circle cx="469.5" cy="878.5" r="3.65" fill="#0000ff"/>
<circle cx="479.5" cy="875.5" r="3.65" fill="#0000ff"/>
<circle cx="489.5" cy="870.5" r="3.65" fill="#0000ff"/>
<circle cx="500.5" cy="866.5" r="3.65" fill="#0000ff"/>
<circle cx="510.5" cy="863.5" r="3.65" fill="#0000ff"/>
<circle cx="520.5" cy="855.5" r="3.65" fill="#0000ff"/>
<circle cx="530.5" cy="848.5" r="3.65" fill="#0000ff"/>
<circle cx="541.5" cy="844.5" r="3.65" fill="#0000ff"/>
<circle cx="551.5" cy="832.5" r="3.65" fill="#0000ff"/>
<circle cx="561.5" cy="824.5" r="3.65" fill="#0000ff"/>
<circle cx="571.5" cy="814.5" r="3.65" fill="#0000ff"/>
<circle cx="581.5" cy="807.5" r="3.65" fill="#0000ff"/>
<circle cx="592.5" cy="792.5" r="3.65" fill="#0000ff"/>
<circle cx="602.5" cy="785.5" r="3.65" fill="#0000ff"/>
<circle cx="612.5" cy="778.5" r="3.65" fill="#0000ff"/>
<circle cx="622.5" cy="768.5" r="3.65" fill="#0000ff"/>
<circle cx="632.5" cy="758.5" r="3.65" fill="#0000ff"/>
<circle cx="643.5" cy="749.5" r="3.65" fill="#0000ff"/>
<circle cx="653.5" cy="744.5" r="3.65" fill="#0000ff"/>
<circle cx="663.5" cy="739.5" r="3.65" fill="#0000ff"/>
<circle cx="673.5" cy="725.5" r="3.65" fill="#0000ff"/>
<circle cx="683.5" cy="708.5" r="3.65" fill="#0000ff"/>
<circle cx="694.5" cy="698.5" r="3.65" fill="#0000ff"/>
<circle cx="704.5" cy="681.5" r="3.65" fill="#0000ff"/>
<circle cx="714.5" cy="597.5" r="3.65" fill="#0000ff"/>
<circle cx="724.5" cy="655.5" r="3.65" fill="#0000ff"/>
<circle cx="734.5" cy="657.5" r="3.65" fill="#0000ff"/>
<circle cx="745.5" cy="636.5" r="3.65" fill="#0000ff"/>
<circle cx="755.5" cy="663.5" r="3.65" fill="#0000ff"/>
<circle cx="765.5" cy="735.5" r="3.65" fill="#0000ff"/>
<circle cx="775.5" cy="798.5" r="3.65" fill="#0000ff"/>
<circle cx="786.5" cy="837.5" r="3.65" fill="#0000ff"/>
<circle cx="796.5" cy="858.5" r="3.65" fill="#0000ff"/>
<circle cx="806.5" cy="876.5" r="3.65" fill="#0000ff"/>
<circle cx="816.5" cy="884.5" r="3.65" fill="#0000ff"/>
<circle cx="826.5" cy="890.5" r="3.65" fill="#0000ff"/>
<circle cx="837.5" cy="893.5" r="3.65" fill="#0000ff"/>
<circle cx="847.5" cy="894.5" r="3.65" fill="#0000ff"/>
<circle cx="857.5" cy="895.5" r="3.65" fill="#0000ff"/>
<circle cx="867.5" cy="896.5" r="3.65" fill="#0000ff"/>
<circle cx="877.5" cy="896.5" r="3.65" fill="#0000ff"/>
<circle cx="888.5" cy="896.5" r="3.65" fill="#0000ff"/>
<circle cx="898.5" cy="896.5" r="3.65" fill="#0000ff"/>
<circle cx="908.5" cy="896.5" r="3.65" fill="#0000ff"/>
<circle cx="918.5" cy="896.5" r="3.65" fill="#0000ff"/>
<circle cx="939.5" cy="896.5" r="3.65" fill="#0000ff"/>
<path d="M599 250h84V105h3V253H599z" fill="#000" shape-rendering="crispEdges"/>
<rect x="593.5" y="99.5" width="89" height="150" fill="#f2f2f2" stroke="#000" stroke-width="1" shape-rendering="crispEdges"/>
<path d="M597.9 108.9L601.0 114.1H595.0z" fill="#ff0000" stroke="#ff0000" stroke-width="0.5"/>
<text transform="translate(604.5 117.1) scale(1 1.04)" class="lg">Electron</text>
<circle cx="598.5" cy="136.5" r="3.65" fill="#0000ff"/>
<text transform="translate(604.5 141.9) scale(1 1.04)" class="lg">Muon</text>
<path d="M594.2 157.2H600.8L598.1 163.8z" fill="#009900" stroke="#009900" stroke-width="0.4"/>
<text transform="translate(604.5 166.7) scale(1 1.04)" class="lg">Pion</text>
<rect x="594" y="182" width="6" height="6" fill="#990099" shape-rendering="crispEdges"/>
<text transform="translate(604.5 191.7) scale(1 1.04)" class="lg">Kaon</text>
<path d="M596 207h3v2h2v3h-2v2h-3v-2h-2v-3h2z" fill="#66cccc" shape-rendering="crispEdges"/>
<text transform="translate(604.5 216.8) scale(1 1.04)" class="lg">Proton</text>
<path d="M598.6 233.2L600.0 236.1L597.9 238.8L596.0 236.1z" fill="#000000" stroke="#000000" stroke-width="1" stroke-linejoin="round"/>
<text transform="translate(604.5 241.7) scale(1 1.04)" class="lg">Ghost</text>
<text transform="translate(121.3 907.1) scale(1 1.08)" class="ax" text-anchor="end">0</text>
<text transform="translate(121.3 824.1) scale(1 1.08)" class="ax" text-anchor="end">0.02</text>
<text transform="translate(121.3 741.1) scale(1 1.08)" class="ax" text-anchor="end">0.04</text>
<text transform="translate(121.3 657.1) scale(1 1.08)" class="ax" text-anchor="end">0.06</text>
<text transform="translate(121.3 574.1) scale(1 1.08)" class="ax" text-anchor="end">0.08</text>
<text transform="translate(121.3 491.1) scale(1 1.08)" class="ax" text-anchor="end">0.1</text>
<text transform="translate(121.3 408.1) scale(1 1.08)" class="ax" text-anchor="end">0.12</text>
<text transform="translate(121.3 325.1) scale(1 1.08)" class="ax" text-anchor="end">0.14</text>
<text transform="translate(121.3 241.1) scale(1 1.08)" class="ax" text-anchor="end">0.16</text>
<text transform="translate(121.3 158.1) scale(1 1.08)" class="ax" text-anchor="end">0.18</text>
<text transform="translate(287.7 935.4) scale(1 1.08)" class="ax" text-anchor="middle">-100</text>
<text transform="translate(502.7 935.4) scale(1 1.08)" class="ax" text-anchor="middle">-50</text>
<text transform="translate(716.5 935.4) scale(1 1.08)" class="ax" text-anchor="middle">0</text>
<text transform="translate(932.5 935.4) scale(1 1.08)" class="ax" text-anchor="middle">50</text>
<text transform="translate(1146.5 935.4) scale(1 1.08)" class="ax" text-anchor="middle">100</text>
<text x="1147.5" y="970.5" class="at" text-anchor="end">Long Proton CombDLLp</text>
<text transform="translate(65.8 41.8) scale(1 0.95)" class="tt">CombDLLp Ghost Long | All NaturalMix AllPhysTracksInEvent:AllPhysTracksInEvent ReweightRICH2 EvalWithPreSel | Train:HeavyNoGhosts-Eval:HeavyGhosts | TMVA-NoPreSels-CombDLL-NoGECs | MLP Norm BP NCycles750 CE tanh SF1.4 CVTest15:1e-16 !UseReg</text>
</svg>
</body></html>
